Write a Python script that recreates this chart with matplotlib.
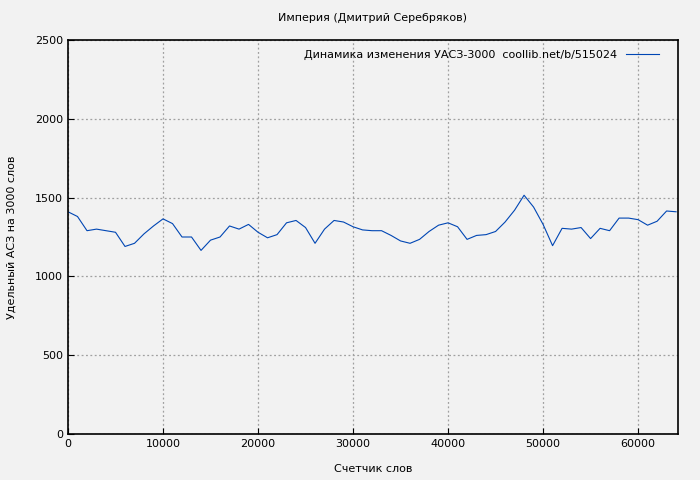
import matplotlib
matplotlib.use("Agg")
import matplotlib.pyplot as plt

words = list(range(0, 65000, 1000))
values = [1410,1380,1290,1300,1290,1280,1190,1210,1270,1320,1365,1335,1250,1250,1165,1230,
          1250,1320,1300,1330,1280,1245,1265,1340,1355,1310,1210,1300,1355,1345,1315,1295,
          1290,1290,1260,1225,1210,1235,1285,1325,1340,1315,1235,1260,1265,1285,1345,1420,
          1515,1440,1330,1195,1305,1300,1310,1240,1305,1290,1370,1370,1360,1325,1350,1415,1410]

plt.rcParams['font.family'] = ['DejaVu Sans']
fig = plt.figure(figsize=(7, 4.8), dpi=100, facecolor='#f2f2f2')
ax = fig.add_axes([68/700, 46/480, 610/700, 394/480], facecolor='#f2f2f2')
ax.plot(words, values, color='#0046b4', lw=0.8, label='Динамика изменения УАСЗ-3000  coollib.net/b/515024')
ax.set_xlim(0, 64200)
ax.set_ylim(0, 2500)
ax.set_xticks(range(0, 64000, 10000))
ax.set_yticks(range(0, 2501, 500))
ax.grid(True, color='#a0a0a0', ls=(0, (1.5, 2)), lw=0.9)
ax.tick_params(labelsize=8, direction='in', length=4)
for s in ax.spines.values():
    s.set_linewidth(1.2)
ax.set_title('Империя (Дмитрий Серебряков)', fontsize=8, pad=14)
ax.set_xlabel('Счетчик слов', fontsize=8, labelpad=11)
ax.set_ylabel('Удельный АСЗ на 3000 слов', fontsize=8, labelpad=13)
ax.legend(loc='upper right', fontsize=8, frameon=False, handlelength=3, markerfirst=False,
          bbox_to_anchor=(0.985, 1.0))
fig.savefig('out.png', dpi=100, facecolor=fig.get_facecolor())
